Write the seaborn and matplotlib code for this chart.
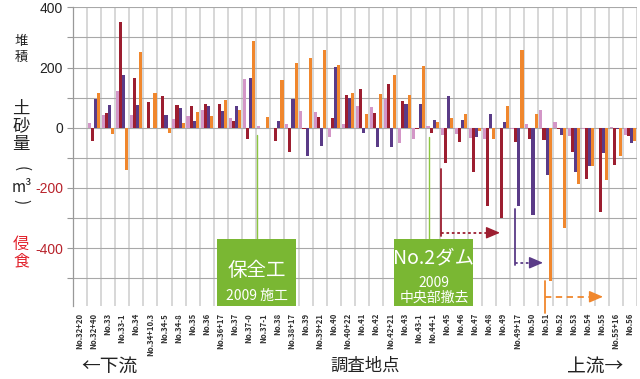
import numpy as np
import pandas as pd
import matplotlib
matplotlib.use("Agg")
import matplotlib.pyplot as plt
import seaborn as sns
from matplotlib.patches import Rectangle

# ---------------- data ----------------
stations = ['No.32+20', 'No.32+40', 'No.33', 'No.33-1', 'No.34', 'No.34+10.3', 'No.34-5',
            'No.34-8', 'No.35', 'No.36', 'No.36+17', 'No.37', 'No.37-0', 'No.37-1', 'No.38',
            'No.38+17', 'No.39', 'No.39+21', 'No.40', 'No.40+22', 'No.41', 'No.42', 'No.42+21',
            'No.43', 'No.43-1', 'No.44-1', 'No.45', 'No.46', 'No.47', 'No.48', 'No.49',
            'No.49+17', 'No.50', 'No.51', 'No.52', 'No.53', 'No.54', 'No.55', 'No.55+16', 'No.56']

series_a = [0, 17, 42, 123, 42, 0, 0, 29, 39, 59, 0, 32, 162, 5, -2, 14, 55, 53, -30, 12,
            73, 69, 95, -51, -39, 7, -25, -22, -35, -39, 0, -3, 12, 58, 20, -27, -3, 0, 4, -23]
series_b = [0, -43, 48, 350, 166, 84, 104, 74, 71, 78, 80, 24, -38, -2, -43, -79, -5, 37, 34, 109,
            129, 50, 144, 90, -3, -16, -117, -49, -148, -261, -300, -49, -37, -42, -3, -82, -170, -281, -123, -27]
series_c = [0, 97, 75, 175, 75, 0, 42, 66, 23, 73, 54, 73, 166, 0, 23, 97, -93, -62, 203, 100,
            -16, -65, -64, 79, 80, 27, 105, 25, -31, 45, 18, -261, -289, -156, -23, -148, -128, -84, -3, -51]
series_d = [0, 114, -22, -140, 250, 114, -17, 17, 52, 38, 91, 60, 287, 37, 158, 215, 233, 259, 207, 116,
            47, 112, 175, 109, 205, 18, 32, 44, -11, -38, 73, 258, 45, -510, -333, -187, -126, -175, -93, -45]

series_names = ['系列1', '系列2', '系列3', '系列4']
series_colors = ['#d396c7', '#9c1e30', '#5a3b87', '#f0872d']

y_ticks = list(range(-500, 401, 100))

# ---------------- style ----------------
sns.set_theme(style="white")
plt.rcParams['font.family'] = ['Noto Sans CJK JP', 'DejaVu Sans']

df = pd.DataFrame({
    '地点': stations * 4,
    '系列': np.repeat(series_names, len(stations)),
    '土砂量': series_a + series_b + series_c + series_d,
})

W, H = 640, 379
fig = plt.figure(figsize=(W / 100, H / 100), dpi=100)
ax = fig.add_axes([72.7 / W, 1 - 306 / H, (637.3 - 72.7) / W, (306 - 7.3) / H])

sns.barplot(data=df, x='地点', y='土砂量', hue='系列', order=stations, hue_order=series_names,
            palette=series_colors, saturation=1, width=0.88, errorbar=None, legend=False,
            linewidth=0, ax=ax)

n = len(stations)
ax.set_xlim(-0.5, n - 0.5)
ax.set_ylim(-592, 400)
ax.set_axisbelow(True)

# grid
ax.set_xticks(np.arange(n) + 0.5, minor=True)
ax.grid(which='minor', axis='x', color='#cdcdcd', lw=1.1)
ax.grid(which='major', axis='x', visible=False)
ax.set_yticks(y_ticks)
ax.grid(which='major', axis='y', color='#a8a8a8', lw=0.8)

# y tick labels
ylabels = [str(v) if v % 200 == 0 else '' for v in y_ticks]
ax.set_yticklabels(ylabels, fontsize=10, family=['Liberation Sans', 'DejaVu Sans'])
for t, v in zip(ax.get_yticklabels(), y_ticks):
    t.set_color('#b8222b' if v < 0 else '#222222')
ax.tick_params(axis='y', which='major', direction='out', length=4, width=0.8, color='#999999', pad=3, left=True)

# x tick labels
ax.set_xticks(np.arange(n))
ax.set_xticklabels(stations, rotation=90, fontsize=5.6, color='#333333', fontweight='bold')
ax.tick_params(axis='x', which='both', length=0, pad=5)
ax.set_xlabel('')
ax.set_ylabel('')

for s in ['top', 'right', 'bottom']:
    ax.spines[s].set_visible(False)
ax.spines['left'].set_color('#999999')
ax.spines['left'].set_linewidth(0.9)

# ---------------- annotations ----------------
green_box = '#7ab733'
green_line = '#8cc63f'

def px2x(px):
    return (px - 72.7) / ((637.3 - 72.7) / n) - 0.5

def py2y(py):
    return (127.7 - py) / 0.3011

# green leader lines
ax.plot([px2x(256.7), px2x(256.7)], [py2y(135), py2y(239)], color=green_line, lw=1)
ax.plot([px2x(429.3), px2x(429.3)], [py2y(137), py2y(239)], color=green_line, lw=1)

# green boxes
for (x0, x1) in [(216.7, 296), (394.3, 472.7)]:
    ax.add_patch(Rectangle((px2x(x0), -592), px2x(x1) - px2x(x0), py2y(239) + 592,
                           facecolor=green_box, edgecolor='none', zorder=5))

ax.text(px2x(256.5), py2y(270), '保全工', color='white', fontsize=14, ha='center', va='center', zorder=6)
ax.text(px2x(256.5), py2y(296), '2009 施工', color='white', fontsize=10, ha='center', va='center', zorder=6)
ax.text(px2x(434), py2y(258), 'No.2ダム', color='white', fontsize=14, ha='center', va='center', zorder=6)
ax.text(px2x(434), py2y(283), '2009', color='white', fontsize=10, ha='center', va='center', zorder=6)
ax.text(px2x(434), py2y(298), '中央部撤去', color='white', fontsize=10, ha='center', va='center', zorder=6)

# arrows
def flow_arrow(xv, y_top, y_bot, y_h, x_tip, color, dashes):
    ax.plot([px2x(xv), px2x(xv)], [py2y(y_top), py2y(y_bot)], color=color, lw=1.3,
            clip_on=False, zorder=6)
    ax.plot([px2x(xv), px2x(x_tip - 8)], [py2y(y_h), py2y(y_h)], color=color, lw=1.3,
            dashes=dashes, clip_on=False, zorder=6)
    ax.annotate('', xy=(px2x(x_tip), py2y(y_h)), xytext=(px2x(x_tip - 10), py2y(y_h)),
                arrowprops=dict(arrowstyle='-|>,head_length=0.7,head_width=0.3', color=color,
                                lw=1.0, shrinkA=0, shrinkB=0), annotation_clip=False, zorder=6)

flow_arrow(441.3, 169, 236, 232.7, 500, '#9c1e30', (1.5, 1.5))
flow_arrow(515.3, 209, 265, 262.7, 543, '#5a3b87', (1.5, 1.5))
flow_arrow(545.3, 281, 313, 296.7, 603, '#f0872d', (3.5, 2.5))

# ---------------- left / bottom text ----------------
def ftext(px, py, s, **kw):
    fig.text(px / W, 1 - py / H, s, ha='center', va='center', **kw)

ftext(21, 41, '堆', fontsize=9.5, color='#222222')
ftext(21, 57, '積', fontsize=9.5, color='#222222')
ftext(21, 109, '土', fontsize=12.5, color='#222222')
ftext(21, 126, '砂', fontsize=12.5, color='#222222')
ftext(21, 144, '量', fontsize=12.5, color='#222222')
ftext(21, 169, '(', fontsize=11, color='#222222', rotation=-90)
ftext(22, 188, 'm³', fontsize=11, color='#222222')
ftext(21, 202, ')', fontsize=11, color='#222222', rotation=-90)
ftext(21, 244, '侵', fontsize=11.5, color='#e2202a')
ftext(21, 261, '食', fontsize=11.5, color='#e2202a')

ftext(109, 366, '←下流', fontsize=13.5, color='#222222')
ftext(365, 366, '調査地点', fontsize=12.5, color='#222222')
ftext(595, 366, '上流→', fontsize=13.5, color='#222222')

fig.savefig('out.png', dpi=100)
